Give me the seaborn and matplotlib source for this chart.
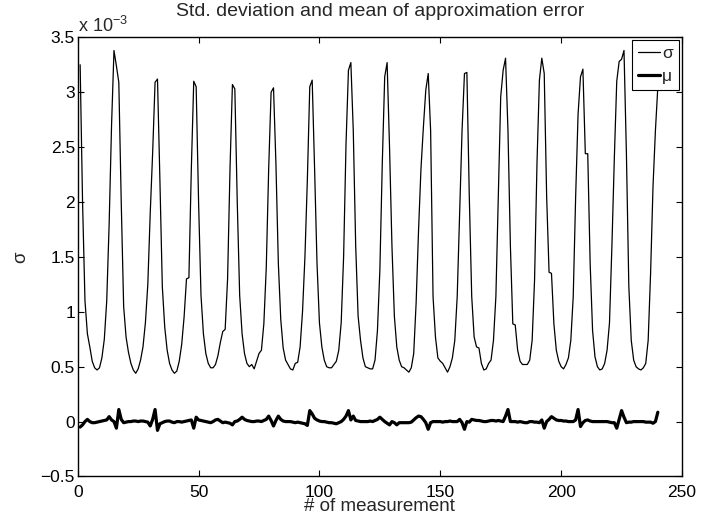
import numpy as np
import pandas as pd
import seaborn as sns
import matplotlib.pyplot as plt
from matplotlib.ticker import FuncFormatter

# measurements, values in units of 1e-3
measurement = list(range(1, 241))

sigma = [
    3.25, 2.0, 1.1, 0.8, 0.68, 0.55, 0.49, 0.47, 0.49, 0.58,
    0.75, 1.1, 1.8, 2.7, 3.38, 3.24, 3.09, 2.0, 1.05, 0.77,
    0.63, 0.53, 0.47, 0.44, 0.48, 0.56, 0.68, 0.9, 1.25, 1.9,
    2.45, 3.09, 3.12, 2.2, 1.23, 0.86, 0.65, 0.53, 0.47, 0.44,
    0.46, 0.55, 0.7, 0.95, 1.3, 1.31, 2.3, 3.1, 3.05, 2.0,
    1.15, 0.8, 0.62, 0.53, 0.49, 0.49, 0.52, 0.6, 0.72, 0.82,
    0.84, 1.3, 2.3, 3.07, 3.03, 2.0, 1.15, 0.8, 0.62, 0.53,
    0.5, 0.52, 0.48, 0.55, 0.62, 0.65, 0.89, 1.4, 2.3, 3.0,
    3.04, 2.35, 1.44, 0.93, 0.67, 0.56, 0.52, 0.48, 0.47, 0.53,
    0.54, 0.68, 1.0, 1.5, 2.2, 3.05, 3.11, 2.3, 1.44, 0.9,
    0.68, 0.56, 0.5, 0.49, 0.49, 0.52, 0.55, 0.65, 0.9, 1.5,
    2.53, 3.2, 3.27, 2.65, 1.6, 0.96, 0.74, 0.58, 0.5, 0.49,
    0.48, 0.48, 0.56, 0.83, 1.38, 2.35, 3.14, 3.27, 2.5, 1.6,
    0.96, 0.68, 0.56, 0.5, 0.49, 0.47, 0.45, 0.49, 0.62, 1.08,
    1.74, 2.3, 2.68, 3.02, 3.17, 2.65, 1.14, 0.77, 0.58, 0.55,
    0.53, 0.49, 0.45, 0.5, 0.58, 0.74, 1.14, 1.9, 2.65, 3.17,
    3.18, 2.05, 1.14, 0.77, 0.68, 0.67, 0.53, 0.47, 0.48, 0.53,
    0.56, 0.74, 1.14, 2.05, 2.96, 3.2, 3.31, 2.65, 1.6, 0.89,
    0.88, 0.65, 0.55, 0.52, 0.52, 0.52, 0.56, 0.74, 1.29, 2.35,
    3.11, 3.31, 3.17, 2.05, 1.36, 1.35, 0.89, 0.65, 0.55, 0.5,
    0.48, 0.52, 0.58, 0.74, 1.14, 2.05, 2.8, 3.14, 3.21, 2.44,
    2.44, 1.44, 0.83, 0.59, 0.5, 0.47, 0.48, 0.53, 0.65, 0.9,
    1.6, 2.4, 3.1, 3.28, 3.3, 3.38, 2.44, 1.23, 0.74, 0.56,
    0.5, 0.48, 0.47, 0.49, 0.53, 0.74, 1.35, 2.14, 2.65, 3.05,
]

mu = [
    -0.05, -0.03, 0.0, 0.02, 0.0, -0.01, -0.01, -0.005, 0.0, 0.005,
    0.01, 0.015, 0.045, 0.015, 0.0, -0.06, 0.11, 0.02, -0.01, -0.005,
    0.0, 0.0, 0.005, 0.005, 0.0, 0.005, 0.005, 0.0, -0.005, -0.04,
    0.02, 0.11, -0.08, -0.02, -0.01, 0.0, 0.005, 0.005, -0.005, -0.01,
    0.0, 0.0, -0.005, 0.0, 0.005, 0.01, 0.015, -0.06, 0.04, 0.015,
    0.01, 0.005, 0.0, -0.005, -0.01, 0.0, 0.015, 0.02, 0.005, -0.01,
    -0.005, -0.01, -0.015, -0.03, 0.0, 0.005, 0.02, 0.04, 0.02, 0.01,
    0.005, 0.0, 0.0, 0.005, 0.005, 0.0, 0.01, 0.02, 0.05, 0.01,
    -0.04, 0.01, 0.05, 0.02, 0.005, 0.0, 0.0, 0.0, -0.005, -0.01,
    -0.005, -0.01, -0.015, -0.02, -0.035, 0.1, 0.07, 0.03, 0.015, 0.005,
    0.0, 0.0, -0.005, -0.01, -0.01, -0.015, -0.02, -0.01, 0.0, 0.02,
    0.05, 0.1, 0.015, 0.05, 0.01, 0.005, 0.0, 0.0, 0.0, 0.0,
    0.005, 0.0, 0.01, 0.02, 0.04, 0.02, 0.0, -0.015, -0.03, 0.0,
    -0.01, -0.03, -0.01, -0.01, -0.01, -0.01, -0.01, -0.005, 0.015, 0.035,
    0.05, 0.045, 0.02, -0.01, -0.07, -0.01, 0.0, 0.0, 0.0, 0.0,
    -0.005, 0.0, 0.0, 0.005, 0.0, 0.0, 0.0, 0.02, -0.01, -0.07,
    0.0, -0.005, 0.02, 0.015, 0.01, 0.01, 0.005, 0.0, 0.0, 0.005,
    0.01, 0.01, 0.005, 0.01, 0.005, 0.0, 0.05, 0.11, 0.0, 0.0,
    0.0, -0.005, 0.0, -0.005, -0.01, -0.01, 0.0, 0.0, -0.005, -0.005,
    -0.01, 0.015, -0.06, 0.0, 0.02, 0.045, 0.03, 0.015, 0.01, 0.01,
    0.005, 0.005, 0.0, 0.0, 0.0, 0.015, 0.11, -0.045, -0.01, 0.01,
    0.015, 0.005, 0.0, 0.0, 0.0, 0.0, 0.0, 0.0, 0.0, -0.005,
    -0.01, -0.01, -0.06, 0.02, 0.1, 0.04, -0.01, -0.005, -0.005, 0.0,
    0.0, 0.0, 0.0, 0.0, -0.005, -0.005, -0.005, -0.015, 0.0, 0.085,
]

x_ticks = [0, 50, 100, 150, 200, 250]
y_ticks = [-0.5, 0, 0.5, 1, 1.5, 2, 2.5, 3, 3.5]

df = pd.DataFrame({"measurement": measurement, "sigma": sigma, "mu": mu})

sns.set_theme(style="ticks")
plt.rcParams["font.family"] = ["Liberation Sans", "DejaVu Sans"]
plt.rcParams["mathtext.fontset"] = "custom"
plt.rcParams["mathtext.rm"] = "Liberation Sans"

fig = plt.figure(figsize=(7.25, 5.14), dpi=100)
ax = fig.add_axes([0.1072, 0.0730, 0.8335, 0.8544])

sns.lineplot(data=df, x="measurement", y="sigma", ax=ax, color="black",
             linewidth=0.9, label="σ")
sns.lineplot(data=df, x="measurement", y="mu", ax=ax, color="black",
             linewidth=2.3, label="μ")

ax.set_xlim(0, 250)
ax.set_ylim(-0.5, 3.5)
ax.set_xticks(x_ticks)
ax.set_yticks(y_ticks)
ax.yaxis.set_major_formatter(FuncFormatter(lambda v, p: ("%g" % v).replace("-", "\u2212")))

ax.tick_params(direction="in", length=4, width=0.8, colors="black",
               labelsize=12.5, top=True, right=True)
ax.tick_params(axis="x", pad=6)
ax.tick_params(axis="y", pad=2)
for s in ax.spines.values():
    s.set_color("black")
    s.set_linewidth(1.0)

ax.set_xlabel("# of measurement", fontsize=13.5, labelpad=-1)
ax.set_ylabel("σ", fontsize=13.5, labelpad=8)
ax.set_title("Std. deviation and mean of approximation error", fontsize=14, pad=15)
ax.text(0.0, 1.003, r"x 10$^{\mathregular{-3}}$", transform=ax.transAxes,
        fontsize=13, ha="left", va="bottom")

leg = ax.legend(loc="upper right", fontsize=12.5, frameon=True, fancybox=False,
                edgecolor="black", handlelength=1.25, handletextpad=0.12,
                borderpad=0.35, labelspacing=0.42, borderaxespad=0.17)
leg.get_frame().set_linewidth(0.8)
leg.get_frame().set_alpha(1)

fig.savefig("out.png", dpi=100)
